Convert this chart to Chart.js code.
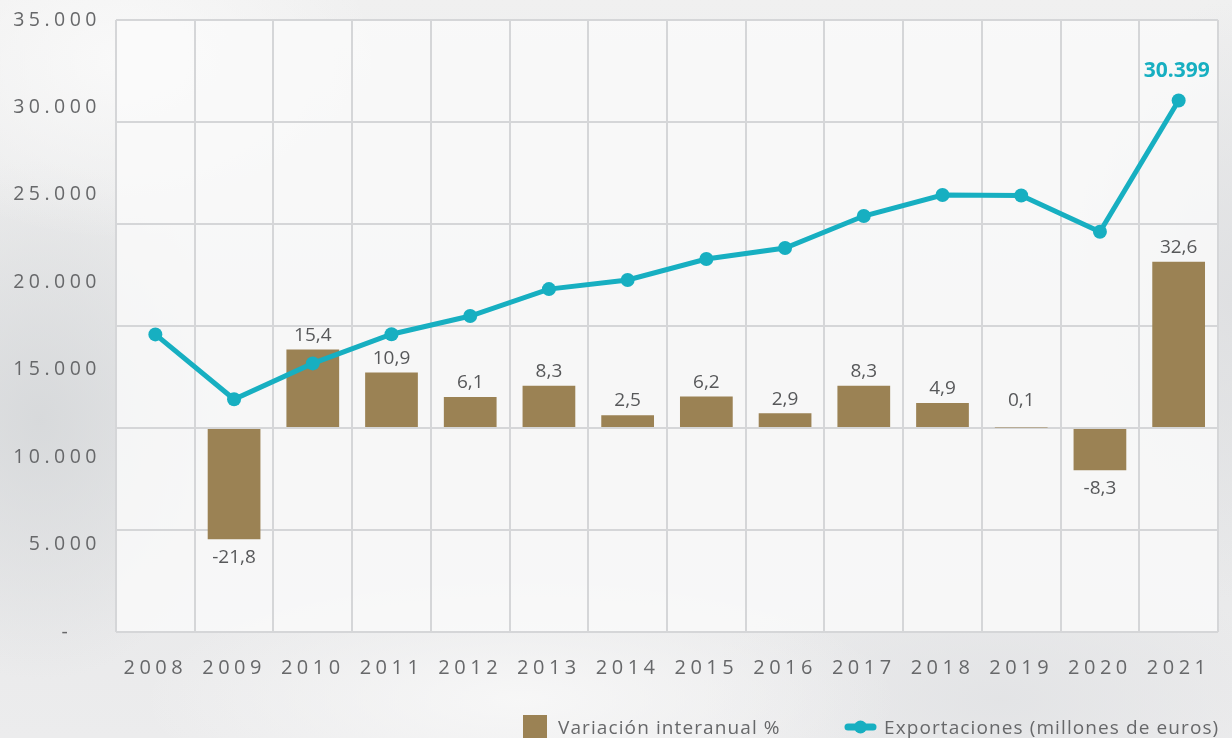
<!DOCTYPE html>
<html lang="es">
<head>
<meta charset="utf-8">
<title>Exportaciones</title>
<script src="https://cdn.jsdelivr.net/npm/chart.js@4"></script>
<style>
  html, body {
    margin: 0;
    padding: 0;
  }
  body {
    width: 1232px;
    height: 738px;
    overflow: hidden;
    background-color: #e9eaeb;
    background-image:
      radial-gradient(ellipse 260px 180px at 120px 60px, rgba(250, 250, 250, 0.9), rgba(250, 250, 250, 0)),
      radial-gradient(ellipse 200px 260px at 40px 420px, rgba(214, 216, 218, 0.9), rgba(214, 216, 218, 0)),
      radial-gradient(ellipse 380px 120px at 520px 700px, rgba(248, 248, 248, 0.9), rgba(248, 248, 248, 0)),
      radial-gradient(ellipse 300px 140px at 1000px 700px, rgba(226, 227, 229, 0.9), rgba(226, 227, 229, 0)),
      radial-gradient(ellipse 160px 300px at 1232px 300px, rgba(222, 223, 225, 0.9), rgba(222, 223, 225, 0)),
      linear-gradient(180deg, #f0f0f0 0%, #e6e7e8 55%, #ececed 100%);
  }
  #wrap {
    position: relative;
    width: 1232px;
    height: 738px;
  }
</style>
</head>
<body>
<div id="wrap"><canvas id="chart"></canvas></div>
<script>
// Exportaciones y variación interanual, 2008-2021

const years = ['2008', '2009', '2010', '2011', '2012', '2013', '2014', '2015', '2016', '2017', '2018', '2019', '2020', '2021'];

// Variación interanual % (barras)
const variacion = [null, -21.8, 15.4, 10.9, 6.1, 8.3, 2.5, 6.2, 2.9, 8.3, 4.9, 0.1, -8.3, 32.6];

// Exportaciones en millones de euros (línea)
const exportaciones = [17020, 13310, 15360, 17030, 18070, 19610, 20130, 21330, 21960, 23790, 24990, 24960, 22890, 30399];

// Eje izquierdo y eje de barras
const exportTicks = [0, 5000, 10000, 15000, 20000, 25000, 30000, 35000];
const variacionRange = [-40, 80];

const barColor = '#9b8254';
const lineColor = '#17afc1';
const textGray = '#67686a';
const labelGray = '#57585a';
const gridGray = '#d5d6d8';

function formatMiles(v) {
  if (v === 0) {
    return '-   ';
  }
  return String(v).replace(/\B(?=(\d{3})+(?!\d))/g, '.');
}

// plot area background + letter spacing for axis labels
const backdropPlugin = {
  id: 'backdrop',
  beforeDraw(chart) {
    const { ctx, chartArea } = chart;
    ctx.save();
    ctx.fillStyle = 'rgba(250, 250, 250, 0.82)';
    ctx.fillRect(chartArea.left, chartArea.top, chartArea.right - chartArea.left, chartArea.bottom - chartArea.top);
    ctx.restore();
    ctx.letterSpacing = '4.5px';
  },
  beforeDatasetsDraw(chart) {
    chart.ctx.letterSpacing = '0px';
  },
};

// value labels on bars and the last point
const valueLabelsPlugin = {
  id: 'valueLabels',
  afterDatasetsDraw(chart) {
    const ctx = chart.ctx;
    const zero = chart.scales.y1.getPixelForValue(0);
    const bars = chart.getDatasetMeta(0).data;

    ctx.save();
    ctx.letterSpacing = '0px';
    ctx.font = '19px "Open Sans"';
    ctx.fillStyle = labelGray;
    ctx.textAlign = 'center';
    ctx.textBaseline = 'middle';
    bars.forEach((bar, i) => {
      const v = variacion[i];
      if (v === null) {
        return;
      }
      let y;
      if (v >= 0) {
        y = Math.min(bar.y - 14, zero - 27);
      } else {
        y = bar.y + 18;
      }
      ctx.fillText(v.toFixed(1).replace('.', ','), bar.x, y);
    });

    const points = chart.getDatasetMeta(1).data;
    const last = points[points.length - 1];
    ctx.font = 'bold 21px "Open Sans"';
    ctx.fillStyle = lineColor;
    ctx.fillText(formatMiles(exportaciones[exportaciones.length - 1]), last.x - 2, last.y - 29);
    ctx.restore();
  },
};

// legend at the bottom, cut by the edge like the original
const legendPlugin = {
  id: 'bottomLegend',
  afterDraw(chart) {
    const ctx = chart.ctx;
    ctx.save();
    ctx.letterSpacing = '1.1px';
    ctx.font = '19px "Open Sans"';
    ctx.textBaseline = 'alphabetic';
    ctx.textAlign = 'left';

    ctx.fillStyle = barColor;
    ctx.fillRect(523, 715, 24, 24);
    ctx.fillStyle = textGray;
    ctx.fillText('Variación interanual %', 558, 734);

    ctx.strokeStyle = lineColor;
    ctx.lineWidth = 7;
    ctx.lineCap = 'round';
    ctx.beginPath();
    ctx.moveTo(848, 727);
    ctx.lineTo(873, 727);
    ctx.stroke();
    ctx.fillStyle = lineColor;
    ctx.beginPath();
    ctx.arc(860.5, 727, 6.5, 0, Math.PI * 2);
    ctx.fill();

    ctx.fillStyle = textGray;
    ctx.fillText('Exportaciones (millones de euros)', 884, 734);
    ctx.restore();
  },
};

document.addEventListener('DOMContentLoaded', () => {
  const ctx = document.getElementById('chart').getContext('2d');

  new Chart(ctx, {
    data: {
      labels: years,
      datasets: [
        {
          type: 'bar',
          label: 'Variación interanual %',
          data: variacion,
          yAxisID: 'y1',
          backgroundColor: barColor,
          borderWidth: 0,
          categoryPercentage: 1,
          barPercentage: 0.67,
          order: 2,
        },
        {
          type: 'line',
          label: 'Exportaciones (millones de euros)',
          data: exportaciones,
          yAxisID: 'y',
          borderColor: lineColor,
          backgroundColor: lineColor,
          borderWidth: 5,
          pointRadius: 7,
          pointBorderWidth: 0,
          pointBackgroundColor: lineColor,
          tension: 0,
          order: 1,
        },
      ],
    },
    options: {
      responsive: true,
      maintainAspectRatio: false,
      animation: false,
      layout: {
        padding: { top: 20, right: 0, bottom: 0, left: 0 },
      },
      plugins: {
        legend: { display: false },
        tooltip: { enabled: false },
      },
      scales: {
        x: {
          offset: true,
          grid: {
            offset: true,
            color: gridGray,
            lineWidth: 2,
            drawTicks: false,
          },
          border: { display: false },
          ticks: {
            color: textGray,
            font: { family: 'Open Sans', size: 20 },
            padding: 24,
            maxRotation: 0,
            autoSkip: false,
          },
          afterFit(scale) {
            scale.height = 106;
            scale.paddingLeft = 0;
            scale.paddingRight = 0;
          },
        },
        y: {
          position: 'left',
          min: exportTicks[0],
          max: exportTicks[exportTicks.length - 1],
          afterBuildTicks(scale) {
            scale.ticks = exportTicks.map((v) => ({ value: v }));
          },
          grid: { display: false, drawTicks: false },
          border: { display: false },
          ticks: {
            color: textGray,
            font: { family: 'Open Sans', size: 19.5 },
            padding: 15,
            callback: (v) => formatMiles(v),
          },
          afterFit(scale) {
            scale.width = 116;
            scale.paddingTop = 0;
            scale.paddingBottom = 0;
          },
        },
        y1: {
          position: 'right',
          min: variacionRange[0],
          max: variacionRange[1],
          ticks: { display: false, stepSize: 20 },
          grid: {
            color: gridGray,
            lineWidth: 2,
            drawTicks: false,
          },
          border: { display: false },
          afterFit(scale) {
            scale.width = 14;
            scale.paddingTop = 0;
            scale.paddingBottom = 0;
          },
        },
      },
    },
    plugins: [backdropPlugin, valueLabelsPlugin, legendPlugin],
  });
});
</script>
</body>
</html>
